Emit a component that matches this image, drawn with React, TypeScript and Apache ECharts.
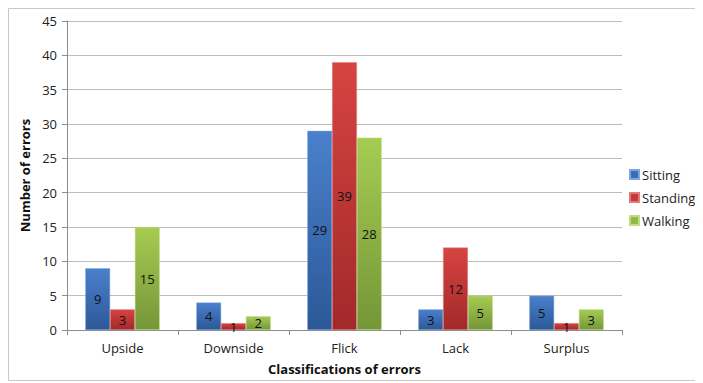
import React, { useEffect, useRef } from "react";
import * as echarts from "echarts";

const categories = ["Upside", "Downside", "Flick", "Lack", "Surplus"];
const sitting = [9, 4, 29, 3, 5];
const standing = [3, 1, 39, 12, 1];
const walking = [15, 2, 28, 5, 3];
const seriesNames = ["Sitting", "Standing", "Walking"];

const FONT = "'Open Sans', 'Noto Sans', sans-serif";

function grad(top: string, bottom: string) {
  return new echarts.graphic.LinearGradient(0, 0, 0, 1, [
    { offset: 0, color: top },
    { offset: 1, color: bottom },
  ]);
}

export default function App() {
  const ref = useRef<HTMLDivElement>(null);

  useEffect(() => {
    if (!ref.current) return;
    const chart = echarts.init(ref.current, undefined, { renderer: "svg" });
    const styles = [
      { fill: grad("#4a80cc", "#2c5897"), border: "#7fa6dc", legend: "#3b6db3" },
      { fill: grad("#d64441", "#a2292a"), border: "#e07a78", legend: "#c43a38" },
      { fill: grad("#a6cc52", "#749638"), border: "#c0dc86", legend: "#92b846" },
    ];
    const values = [sitting, standing, walking];
    chart.setOption({
      animation: false,
      textStyle: { fontFamily: FONT },
      graphic: [
        {
          type: "rect",
          shape: { x: 0.5, y: 0.5, width: 692, height: 372 },
          style: { fill: "none", stroke: "#c8c8c8", lineWidth: 1 },
        },
      ],
      grid: { left: 59, right: 79, top: 13, bottom: 51 },
      legend: {
        orient: "vertical",
        left: 616,
        top: 155,
        itemWidth: 9,
        itemHeight: 9,
        itemGap: 10,
        icon: "rect",
        textStyle: { fontFamily: FONT, fontSize: 13, color: "#222", padding: [0, 0, 0, -2] },
        data: seriesNames.map((n, i) => ({ name: n, itemStyle: { color: styles[i].legend } })),
      },
      xAxis: {
        type: "category",
        data: categories,
        name: "Classifications of errors",
        nameLocation: "middle",
        nameGap: 32,
        nameTextStyle: { fontFamily: FONT, fontWeight: "bold", fontSize: 13, color: "#111" },
        axisLine: { lineStyle: { color: "#8c8c8c" } },
        axisTick: { show: true, length: 5, lineStyle: { color: "#8c8c8c" } },
        axisLabel: { fontFamily: FONT, fontSize: 13, color: "#222", margin: 11 },
      },
      yAxis: {
        type: "value",
        min: 0,
        max: 45,
        interval: 5,
        name: "Number of errors",
        nameLocation: "middle",
        nameGap: 34,
        nameRotate: 90,
        nameTextStyle: { fontFamily: FONT, fontWeight: "bold", fontSize: 13, color: "#111" },
        axisLine: { show: true, lineStyle: { color: "#8c8c8c" } },
        axisTick: { show: true, length: 5, lineStyle: { color: "#8c8c8c" } },
        axisLabel: { fontFamily: FONT, fontSize: 13, color: "#222", margin: 10 },
        splitLine: { lineStyle: { color: "#bdbdbd" } },
      },
      series: seriesNames.map((name, i) => ({
        name,
        type: "bar",
        data: values[i],
        barGap: "0%",
        barCategoryGap: "33%",
        itemStyle: { color: styles[i].fill, borderColor: styles[i].border, borderWidth: 0.5 },
        label: {
          show: true,
          position: "inside",
          fontFamily: FONT,
          fontSize: 13,
          color: "#111",
        },
      })),
    });
    return () => chart.dispose();
  }, []);

  return <div ref={ref} style={{ width: 693, height: 373 }} />;
}
